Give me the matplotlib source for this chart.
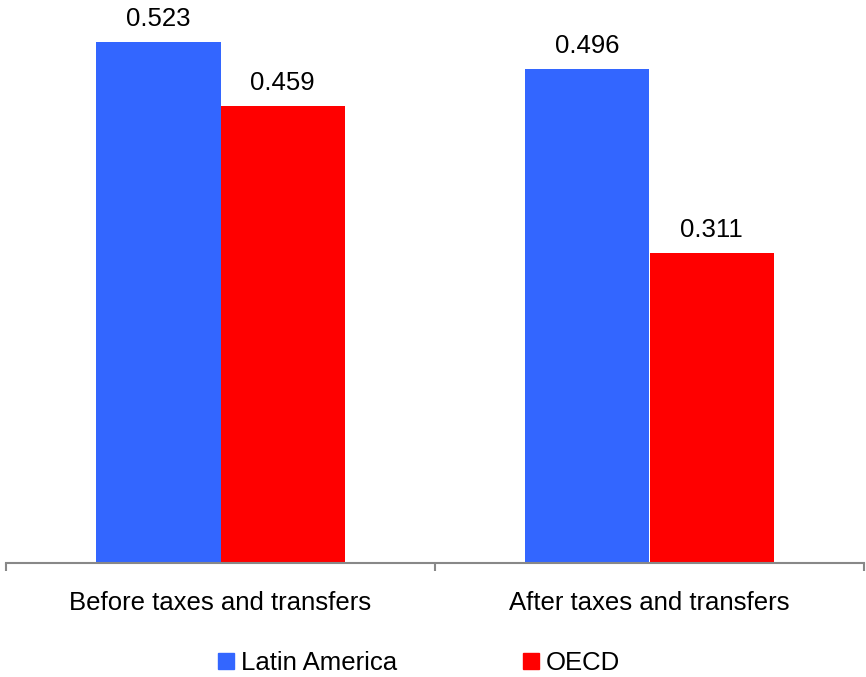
import matplotlib.pyplot as plt
from matplotlib.patches import Patch
from matplotlib.ticker import FixedLocator

plt.rcParams['font.family'] = ['Liberation Sans', 'DejaVu Sans']

groups = ['Before taxes and transfers', 'After taxes and transfers']
latin_america = [0.523, 0.496]
oecd = [0.459, 0.311]

blue = '#3366FF'
red = '#FF0000'

fig = plt.figure(figsize=(8.66, 6.77), dpi=100)
ax = fig.add_axes([6 / 866, 114 / 677, 858 / 866, 558 / 677])

x = list(range(len(groups)))
w = 0.29
b1 = ax.bar([i - w / 2 for i in x], latin_america, width=w, color=blue, label='Latin America')
b2 = ax.bar([i + w / 2 for i in x], oecd, width=w, color=red, label='OECD')

for bars, vals in ((b1, latin_america), (b2, oecd)):
    for rect, v in zip(bars, vals):
        ax.annotate(f'{v:.3f}', (rect.get_x() + rect.get_width() / 2, v),
                    xytext=(0, 11), textcoords='offset pixels',
                    ha='center', va='bottom', fontsize=18.5)

ax.set_xlim(-0.5, 1.5)
ax.set_ylim(0, 0.56)
ax.set_xticks(x)
ax.set_xticklabels(groups, fontsize=18.5)
ax.xaxis.set_minor_locator(FixedLocator([-0.5, 0.5, 1.5]))
ax.tick_params(axis='x', which='major', length=0, pad=20.5)
ax.tick_params(axis='x', which='minor', length=6, width=1.5, color='#888888', direction='out')
ax.set_yticks([])
for s in ('top', 'right', 'left'):
    ax.spines[s].set_visible(False)
ax.spines['bottom'].set_color('#888888')
ax.spines['bottom'].set_linewidth(1.5)

handles = [Patch(color=blue, label='Latin America'), Patch(color=red, label='OECD')]
fig.legend(handles=handles, loc='center', bbox_to_anchor=(419 / 866, 1 - 663 / 677),
           ncol=2, frameon=False, fontsize=18.5, handlelength=0.62, handleheight=0.62,
           handletextpad=0.27, columnspacing=4.9)

fig.savefig('out.png', dpi=100)
